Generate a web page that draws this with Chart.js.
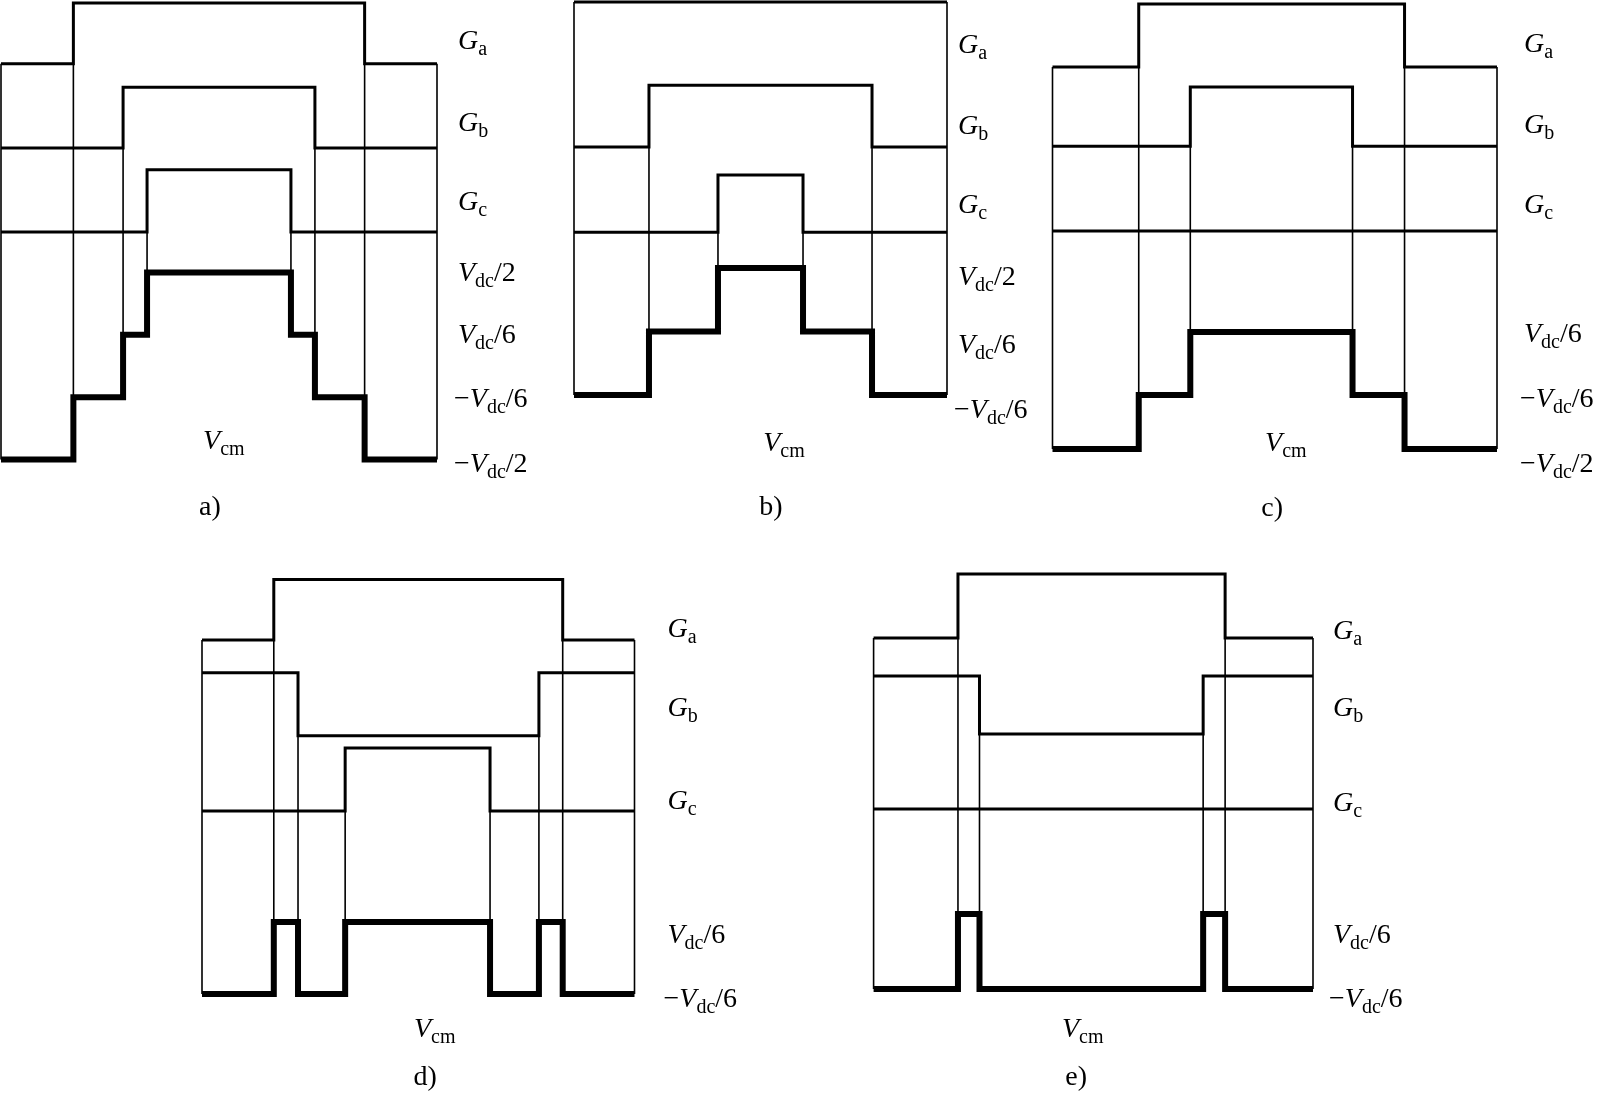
<!DOCTYPE html>
<html>
<head>
    <title>Common-mode voltage switching patterns</title>
    <script src="https://cdn.jsdelivr.net/npm/chart.js"></script>
    <style>
        body {
            margin: 0;
            width: 1601px;
            height: 1096px;
            background-color: #fff;
            position: relative;
            overflow: hidden;
        }
        canvas {
            position: absolute;
        }
    </style>
</head>
<body>
<script>
// x = time in % of the switching period, y = multiples of Vdc/6 (gate traces stacked above Vcm)

// ---- a) ----
const aGaEdges = [16.6, 83.4];
const aGa = [9.7, 11.65, 9.7];
const aGbEdges = [28.0, 72.0];
const aGb = [7.0, 8.95, 7.0];
const aGcEdges = [33.5, 66.5];
const aGc = [4.3, 6.3, 4.3];
const aVcm = [-3, -1, 1, 3, 1, -1, -3];
const aTicks = ['G_a', 'G_b', 'G_c', 'V_dc/2', 'V_dc/6', '−V_dc/6', '−V_dc/2'];
const aTickVals = [10.47, 7.83, 5.3, 3.02, 1.03, -1.03, -3.11];
const aVcmLabel = [51.1, -2.38];
const aCaption = [47.9, -4.56];

// ---- b) ----
const bGaEdges = [];
const bGa = [11.38];
const bGbEdges = [20.1, 79.9];
const bGb = [6.81, 8.76, 6.81];
const bGcEdges = [38.6, 61.4];
const bGc = [4.13, 5.93, 4.13];
const bVcm = [-1, 1, 3, 1, -1];
const bTicks = ['G_a', 'G_b', 'G_c', 'V_dc/2', 'V_dc/6', '−V_dc/6'];
const bTickVals = [10.06, 7.52, 5.02, 2.75, 0.61, -1.44];
const bVcmLabel = [56.3, -2.48];
const bCaption = [52.8, -4.56];

// ---- c) ----
const cGaEdges = [19.4, 79.2];
const cGa = [9.41, 11.41, 9.41];
const cGbEdges = [31.0, 67.5];
const cGb = [6.9, 8.78, 6.9];
const cGcEdges = [];
const cGc = [4.21];
const cVcm = [-2.71, -1, 1, -1, -2.71];
const cTicks = ['G_a', 'G_b', 'G_c', 'V_dc/6', '−V_dc/6', '−V_dc/2'];
const cTickVals = [10.17, 7.59, 5.06, 0.97, -1.1, -3.14];
const cVcmLabel = [52.5, -2.49];
const cCaption = [49.4, -4.59];

// ---- d) ----
const dGaEdges = [16.6, 83.4];
const dGa = [8.83, 10.51, 8.83];
const dGbEdges = [22.2, 77.9];
const dGb = [7.92, 6.17, 7.92];
const dGcEdges = [33.1, 66.6];
const dGc = [4.08, 5.83, 4.08];
const dVcm = [-1, 1, -1, 1, -1, 1, -1];
const dTicks = ['G_a', 'G_b', 'G_c', 'V_dc/6', '−V_dc/6'];
const dTickVals = [9.17, 6.96, 4.4, 0.67, -1.1];
const dVcmLabel = [53.8, -1.94];
const dCaption = [51.6, -3.33];

// ---- e) ----
const eGaEdges = [19.2, 80.0];
const eGa = [8.36, 10.07, 8.36];
const eGbEdges = [24.1, 75.0];
const eGb = [7.35, 5.8, 7.35];
const eGcEdges = [];
const eGc = [3.8];
const eVcm = [-1, 1, -1, 1, -1];
const eTicks = ['G_a', 'G_b', 'G_c', 'V_dc/6', '−V_dc/6'];
const eTickVals = [8.57, 6.51, 4.0, 0.47, -1.23];
const eVcmLabel = [47.6, -2.04];
const eCaption = [46.1, -3.37];

const FONT = '"Liberation Serif", "Times New Roman", serif';

// layout: canvas rect and plot box (page px), y range, label gap
const panels = [
    { rect: [0, 0, 550, 540], box: [1, 3, 437, 459.5], yMin: -3, yMax: 11.65, gap: 21,
      gates: [[aGaEdges, aGa], [aGbEdges, aGb], [aGcEdges, aGc]], vcm: aVcm,
      ticks: aTicks, tickVals: aTickVals, vcmLabel: aVcmLabel, caption: aCaption, name: 'a)' },
    { rect: [555, 0, 490, 540], box: [574, 2, 947, 395], yMin: -1, yMax: 11.38, gap: 11,
      gates: [[bGaEdges, bGa], [bGbEdges, bGb], [bGcEdges, bGc]], vcm: bVcm,
      ticks: bTicks, tickVals: bTickVals, vcmLabel: bVcmLabel, caption: bCaption, name: 'b)' },
    { rect: [1040, 0, 561, 540], box: [1052.5, 4, 1497, 449], yMin: -2.71, yMax: 11.41, gap: 27,
      gates: [[cGaEdges, cGa], [cGbEdges, cGb], [cGcEdges, cGc]], vcm: cVcm,
      ticks: cTicks, tickVals: cTickVals, vcmLabel: cVcmLabel, caption: cCaption, name: 'c)' },
    { rect: [185, 560, 580, 536], box: [202, 579.5, 634.5, 994], yMin: -1, yMax: 10.51, gap: 33,
      gates: [[dGaEdges, dGa], [dGbEdges, dGb], [dGcEdges, dGc]], vcm: dVcm,
      ticks: dTicks, tickVals: dTickVals, vcmLabel: dVcmLabel, caption: dCaption, name: 'd)' },
    { rect: [855, 560, 600, 536], box: [873.6, 574, 1313, 989], yMin: -1, yMax: 10.07, gap: 20,
      gates: [[eGaEdges, eGa], [eGbEdges, eGb], [eGcEdges, eGc]], vcm: eVcm,
      ticks: eTicks, tickVals: eTickVals, vcmLabel: eVcmLabel, caption: eCaption, name: 'e)' }
];

// value of a step signal at time t
function valueAt(edges, vals, t) {
    let k = 0;
    edges.forEach(e => { if (e <= t) k++; });
    return vals[k];
}

// points for a stepped line (stepped: true holds the level until the next point)
function stepPoints(edges, vals) {
    const pts = [{ x: 0, y: vals[0] }];
    edges.forEach((t, i) => pts.push({ x: t, y: vals[i + 1] }));
    pts.push({ x: 100, y: vals[vals.length - 1] });
    return pts;
}

// italic main letter, upright subscript, upright tail  e.g. "−V_dc/6"
function drawRich(ctx, text, x, y, center) {
    const m = text.match(/^(−?)([A-Za-z])_([a-z]+)(.*)$/);
    const parts = [
        { t: m[1], f: '28px ' + FONT, dy: 0 },
        { t: m[2], f: 'italic 28px ' + FONT, dy: 0 },
        { t: m[3], f: '20px ' + FONT, dy: 6 },
        { t: m[4], f: '28px ' + FONT, dy: 0 }
    ];
    let w = 0;
    parts.forEach(p => { ctx.font = p.f; p.w = ctx.measureText(p.t).width; w += p.w; });
    if (center) x -= w / 2;
    const base = y + 9;
    parts.forEach(p => {
        ctx.font = p.f;
        ctx.fillText(p.t, x, base + p.dy);
        x += p.w;
    });
}

const labelPlugin = {
    id: 'panelLabels',
    afterDraw(chart, args, opts) {
        const ctx = chart.ctx;
        const area = chart.chartArea;
        const xs = chart.scales.x;
        const ys = chart.scales.y;
        const p = opts.panel;
        ctx.save();
        ctx.fillStyle = '#000';
        ctx.textBaseline = 'alphabetic';
        ctx.textAlign = 'left';
        p.ticks.forEach((t, i) => {
            const x0 = area.right + p.gap - (t.startsWith('−') ? 4 : 0);
            drawRich(ctx, t, x0, ys.getPixelForValue(p.tickVals[i]), false);
        });
        drawRich(ctx, 'V_cm', xs.getPixelForValue(p.vcmLabel[0]), ys.getPixelForValue(p.vcmLabel[1]), true);
        ctx.font = '28px ' + FONT;
        ctx.textAlign = 'center';
        ctx.textBaseline = 'middle';
        ctx.fillText(p.name, xs.getPixelForValue(p.caption[0]), ys.getPixelForValue(p.caption[1]));
        ctx.restore();
    }
};

function line(data, width, order) {
    return {
        data: data,
        borderColor: '#000',
        borderWidth: width,
        pointRadius: 0,
        fill: false,
        tension: 0,
        clip: false,
        borderJoinStyle: 'miter',
        borderCapStyle: 'butt',
        order: order
    };
}

panels.forEach(p => {
    const cv = document.createElement('canvas');
    cv.width = p.rect[2];
    cv.height = p.rect[3];
    cv.style.left = p.rect[0] + 'px';
    cv.style.top = p.rect[1] + 'px';
    document.body.appendChild(cv);

    // Vcm switches whenever any gate switches
    let vcmEdges = [];
    p.gates.forEach(g => { vcmEdges = vcmEdges.concat(g[0]); });
    vcmEdges.sort((a, b) => a - b);

    const datasets = [];
    datasets.push(Object.assign(line(stepPoints(vcmEdges, p.vcm), 6, 0), { stepped: true }));
    p.gates.forEach(g => {
        datasets.push(Object.assign(line(stepPoints(g[0], g[1]), 3, 1), { stepped: true }));
    });

    // thin guides: each gate edge down to the upper Vcm level
    p.gates.forEach(g => {
        g[0].forEach((t, i) => {
            const low = Math.min(g[1][i], g[1][i + 1]);
            const top = Math.max(valueAt(vcmEdges, p.vcm, t - 0.01), valueAt(vcmEdges, p.vcm, t + 0.01));
            datasets.push(line([{ x: t, y: low }, { x: t, y: top }], 1.6, 2));
        });
    });
    // frame sides from the Ga trace down to Vcm
    [0, 100].forEach(t => {
        const ga = p.gates[0];
        datasets.push(line([{ x: t, y: valueAt(ga[0], ga[1], t) }, { x: t, y: valueAt(vcmEdges, p.vcm, t) }], 1.6, 2));
    });

    new Chart(cv.getContext('2d'), {
        type: 'line',
        data: { datasets: datasets },
        options: {
            responsive: false,
            animation: false,
            events: [],
            devicePixelRatio: 1,
            layout: {
                padding: {
                    left: p.box[0] - p.rect[0],
                    top: p.box[1] - p.rect[1],
                    right: p.rect[0] + p.rect[2] - p.box[2],
                    bottom: p.rect[1] + p.rect[3] - p.box[3]
                }
            },
            scales: {
                x: { type: 'linear', min: 0, max: 100, display: false },
                y: { type: 'linear', min: p.yMin, max: p.yMax, display: false }
            },
            plugins: {
                legend: { display: false },
                tooltip: { enabled: false },
                panelLabels: { panel: p }
            }
        },
        plugins: [labelPlugin]
    });
});
</script>
</body>
</html>
